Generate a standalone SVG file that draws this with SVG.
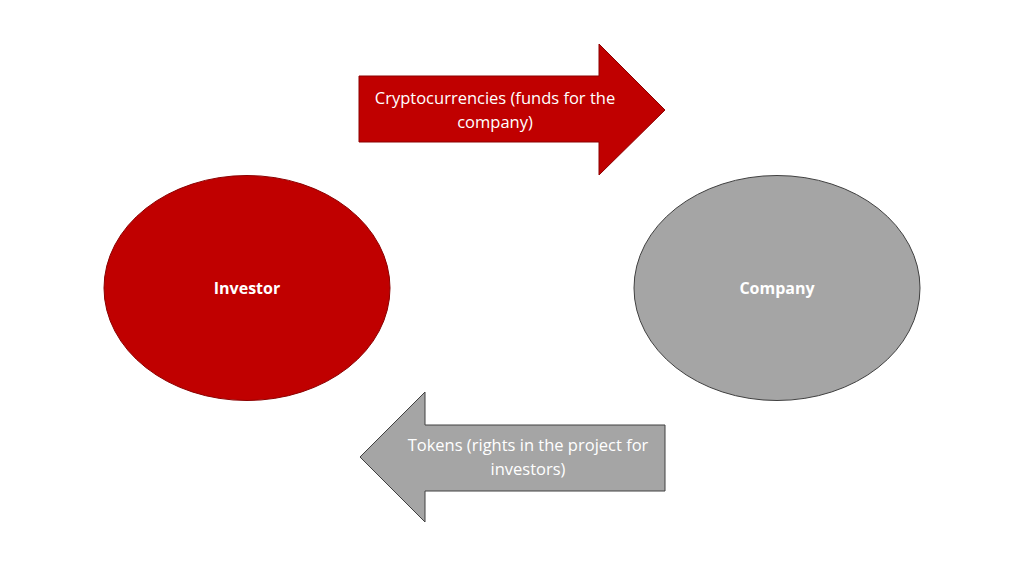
<svg xmlns="http://www.w3.org/2000/svg" width="1024" height="576" viewBox="0 0 1024 576">
<style>
.red{fill:#C00000;stroke:#8B0000;stroke-width:1}
.gray{fill:#A5A5A5;stroke:#404040;stroke-width:1}
.lbl{font-family:"Open Sans","Liberation Sans",sans-serif;font-size:16.5px;fill:#FFFFFF;text-anchor:middle}
.node{font-family:"Open Sans","Liberation Sans",sans-serif;font-size:16px;font-weight:bold;fill:#FFFFFF;text-anchor:middle}
</style>
<rect width="1024" height="576" fill="#FFFFFF"/>
<g id="connectors">
<g id="arrow-crypto">
<polygon class="red" points="359,76 599,76 599,44 665,110 599,175 599,142 359,142"/>
<text class="lbl" x="495" y="104">Cryptocurrencies (funds for the</text>
<text class="lbl" x="495" y="128">company)</text>
</g>
<g id="arrow-tokens">
<polygon class="gray" points="665,425 425,425 425,392 360,457 425,522 425,491 665,491"/>
<text class="lbl" x="528" y="451">Tokens (rights in the project for</text>
<text class="lbl" x="528" y="475">investors)</text>
</g>
</g>
<g id="investor">
<ellipse class="red" cx="247" cy="288" rx="143" ry="112.5"/>
<text class="node" x="247" y="294">Investor</text>
</g>
<g id="company">
<ellipse class="gray" cx="777" cy="288" rx="143" ry="112.5"/>
<text class="node" x="777" y="294">Company</text>
</g>
</svg>
